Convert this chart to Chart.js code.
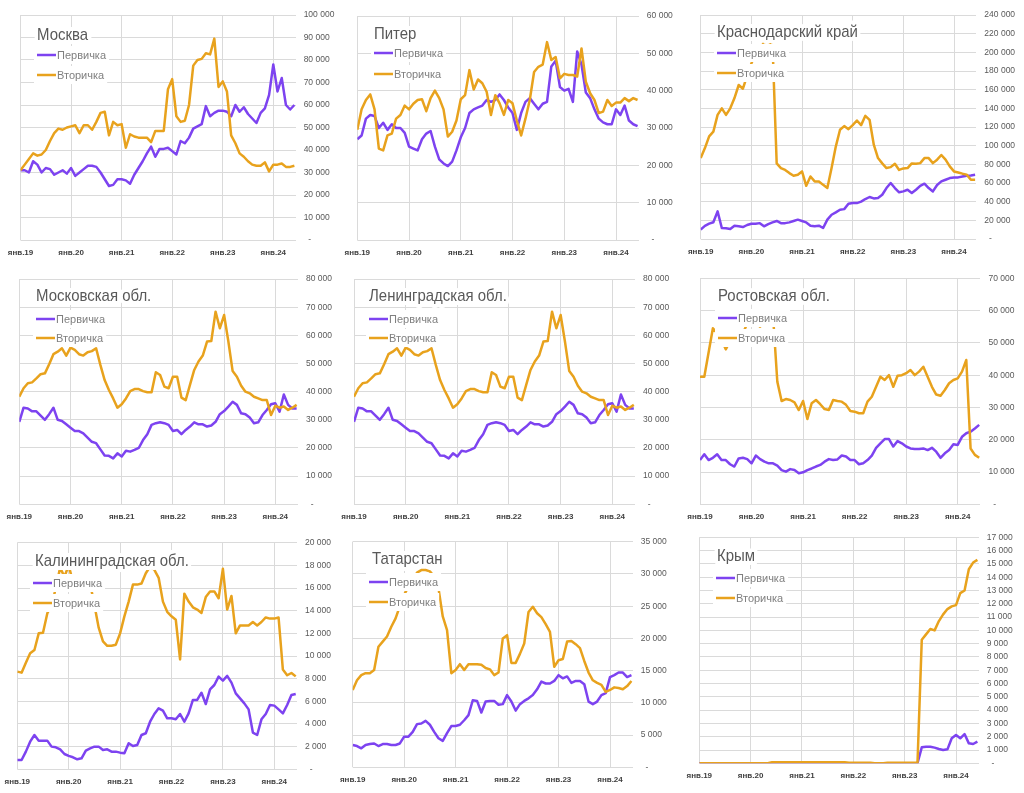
<!DOCTYPE html>
<html><head><meta charset="utf-8">
<script src="https://cdn.jsdelivr.net/npm/chart.js"></script>
<style>
html,body{margin:0;padding:0;background:#fff;width:1024px;height:793px;overflow:hidden;}
canvas{position:absolute;}
</style></head><body>
<script>
// ---------- DATA (monthly, янв.2019 – июн.2024, values in thousands) ----------
const seriesNames = ['Первичка', 'Вторичка'];
const yearLabels = ['янв.19', 'янв.20', 'янв.21', 'янв.22', 'янв.23', 'янв.24'];
const regionNames = ['Москва', 'Питер', 'Краснодарский край', 'Московская обл.', 'Ленинградская обл.',
  'Ростовская обл.', 'Калининградская обл.', 'Татарстан', 'Крым'];

const moscowPrimary = [31,31,30,35,33.5,30,32,31.5,29,30,31,29.5,32,28.5,30,31.5,33,33,32.5,30,27,24,24.5,27,27,26.5,25,29,32,35,38.5,41.5,37,40.5,40.5,41,39.5,38,44,43,45.5,49.5,50.5,51.5,59.5,55,56.5,57.5,57.5,57,55,60,57,59,56,54,52,56.5,58.5,64.5,78,66,72,60,58,60];
const moscowSecondary = [31,33.5,36,38.5,37.5,38,40,44,47.5,49.5,49,50,50.5,51,47.5,51,51,49,52.5,56.5,57,46.5,52.5,51,51.5,41,47,46,45.5,45.5,45.5,43.5,48.5,48.5,48.5,67,71.5,55,52.5,53,60,77.5,80,80.5,83,82.5,89.5,68,70.5,66,46.5,43,38.5,37,35,33.5,33,33,34.5,30.5,33.5,33.5,34,32.5,32.5,33];

const spbPrimary = [27,28,32.5,33.5,33.2,30,31.4,29.5,31,30,30,28.7,25,24.5,24,27,28.5,29.2,25,21.6,20.5,19.8,21,24,27.5,30,34,35,35.5,36,37.5,37,37.5,39,37.5,35.5,34,29.5,34,37,38,36.5,35,36.5,37,46.5,48,41,40,40.5,37,50.5,47,39.5,38,35,32.5,31.5,31,31,35,33.5,36,32,31,30.5];
const spbSecondary = [29.5,35,37.5,39,35,24.5,24,28,28.5,32.5,33.5,36,35,36.5,37.5,37.7,34.5,38,40,38,35,27.7,29,32,37.7,38.8,45.5,40.3,43,42,39.7,33.5,38.8,36.6,33.5,37.5,36.6,32,28,32.5,37.5,45,46.4,47,53,48.2,49,43.3,44.5,44.2,44.2,43.8,51.3,42.4,39.3,37.5,34,34.4,37.5,35.9,36.8,36.8,38,37.2,38,37.5];

const krasnodarPrimary = [10,14,16.4,18,29.6,11.8,11.4,10.7,14.3,13.6,12.8,15,16.4,16.4,17,13.6,16,17.8,19.3,17,17,17.8,19.3,20.7,19.3,17.8,14.3,13.6,14.3,11.8,20.7,26,28.5,31.4,32,37.8,38.5,38.5,40,42.8,45,43.5,44,47.4,54.6,60,54.6,50,51,52.8,49.2,52.8,57,59.2,54.6,51,57.8,61.7,63.5,65.3,66,66,67,67.8,68,68.8];
const krasnodarSecondary = [86.7,97.4,110,115,133,140,133,140,151,165,161,175,188,198,205,210,208,210,81,76,74,70.6,67.8,68.8,72.4,57,67,61.7,61.7,58,54.6,76,99,117,121,117.7,122,127,122,132,127.7,101,86.7,81,76,77,80.6,74,75.6,76,81,80.6,81.3,86.7,86.7,81.3,85,90,85,77.8,72.4,71.3,70,69,63.5,63.5];

const mosOblPrimary = [29.3,34.3,34,33,33,31.5,30,32,34.3,30,29.6,28.4,27.2,26,26,25.2,23.7,22.2,21.7,19.5,17.3,17.2,16.3,18.1,17,19,18.7,19.3,20,22.8,24.9,28.2,28.8,29.1,28.8,28.2,26,26.4,24.9,26.4,27.6,29.1,28.4,28.4,27.6,28,29.3,32,33.1,34.7,36.4,35.3,32.3,32,30.8,28.8,29.1,31.7,33.5,35.5,35.9,32.9,39,35.3,34,34];
const mosOblSecondary = [38.2,41.2,43,43.3,44.7,46.2,46.5,49.7,53.3,54.2,55.4,52.8,55.6,54.8,53.3,52.8,54,54.4,55.4,49.5,44.1,40.6,37.6,34.3,35.5,37.6,40.2,40.9,40.9,40.2,39.8,39.8,46.9,45.9,41.8,41.2,45.3,45.3,37.9,37,42.4,47.7,50.7,52.8,57.8,58,68.4,62.5,67.2,57.8,47.3,45.3,42.1,40,39.4,38.2,37.6,37,37,31.7,35,34.3,34.7,33.5,34.3,35.3];

const lenOblPrimary = [29.3,34.3,34,33,33,31.5,30,32,34.3,30,29.6,28.4,27.2,26,26,25.2,23.7,22.2,21.7,19.5,17.3,17.2,16.3,18.1,17,19,18.7,19.3,20,22.8,24.9,28.2,28.8,29.1,28.8,28.2,26,26.4,24.9,26.4,27.6,29.1,28.4,28.4,27.6,28,29.3,32,33.1,34.7,36.4,35.3,32.3,32,30.8,28.8,29.1,31.7,33.5,35.5,35.9,32.9,39,35.3,34,34];
const lenOblSecondary = [38.2,41.2,43,43.3,44.7,46.2,46.5,49.7,53.3,54.2,55.4,52.8,55.6,54.8,53.3,52.8,54,54.4,55.4,49.5,44.1,40.6,37.6,34.3,35.5,37.6,40.2,40.9,40.9,40.2,39.8,39.8,46.9,45.9,41.8,41.2,45.3,45.3,37.9,37,42.4,47.7,50.7,52.8,57.8,58,68.4,62.5,67.2,57.8,47.3,45.3,42.1,40,39.4,38.2,37.6,37,37,31.7,35,34.3,34.7,33.5,34.3,35.3];

const rostovPrimary = [13.7,15.5,13.7,14.4,15.5,13.7,13.7,12.4,11.7,14.2,14.4,14,12.7,15.1,14,13.2,12.7,12.7,12,10.6,10.1,10.9,10.6,9.6,9.9,10.6,11.1,11.7,12.2,13.2,14,13.7,13.9,15.1,14.8,13.7,13.7,12.4,12.7,13.7,15.1,17.5,18.9,20.2,20.2,17.9,19.6,18.9,17.9,17.3,17.1,17.1,17.3,16.8,17.5,16.3,14.4,15.8,16.8,18.6,18.4,20.9,22,22.5,23.5,24.6];
const rostovSecondary = [39.5,39.5,47,54.5,53,51,48,50.5,52,51.5,53,56,57,56,55,56.5,57.5,58.5,38,32,32.6,32.3,31.6,29.2,32,26.4,31.3,32.3,31,29.5,29.2,32.3,32,31.8,30.8,28.9,28.7,28.2,28.2,31.8,33.3,36.4,39.5,38.5,40,36.4,39.8,40,40.6,41.6,40,41.1,42.6,39.5,36.4,34,33.6,35.4,37.5,38.5,39,41.1,44.7,17.3,15.3,14.4];

const kaliningradPrimary = [0.82,0.82,1.56,2.44,3.03,2.53,2.53,2.53,2,1.94,1.76,1.35,1.18,1.06,0.88,0.97,1.65,1.85,2,2,1.7,1.76,1.56,1.56,1.47,1.41,2.3,2.06,2.15,3.03,3.18,4.2,4.88,5.38,5.18,4.5,4.5,4.41,4.88,4.2,4.94,6.12,6.12,6.76,5.76,7.06,7.44,8.18,7.82,8.24,7.65,6.7,6.26,5.82,5.29,3.24,3.03,4.41,4.88,5.68,5.62,5.29,4.94,5.68,6.56,6.65];
const kaliningradSecondary = [8.62,8.53,9.41,10.24,10.53,12,12.06,13.76,14.5,16,17.8,17,18,16.5,16.4,16.4,16.8,16.4,14.5,12.5,11.3,10.9,10.9,11,12,13.5,14.8,16.3,16.3,16.4,17.3,17.9,17.6,16.9,14.8,13.9,13.5,13.2,9.7,15.5,14.8,14.3,14.1,13.8,15.2,15.7,15.7,15.1,17.7,14.1,15.3,12,12.7,12.7,12.7,13,12.7,13,13.4,13.3,13.3,13.4,8.8,8.3,8.5,8.2];

const tatarstanPrimary = [3.46,3.3,2.95,3.46,3.6,3.7,3.3,3.6,3.6,3.46,3.46,3.7,4.75,4.75,5.5,6.7,6.8,7.2,6.6,5.5,4.5,4.1,5.3,6.4,6.4,6.6,7.3,8.1,10.4,10.3,8.5,10.2,10.3,10.3,9.7,9.8,11.2,10.2,8.8,9.8,10.3,10.7,11.2,12.1,13.3,13,13,13.4,14.3,13.8,14.1,13.1,13.4,13.4,12.9,10.2,9.8,10.2,11.2,11.5,14,14.3,14.7,14.7,14,14.3];
const tatarstanSecondary = [12,13.5,14.3,14.6,14.6,15.1,18.7,19.5,20.3,21.8,23.1,25,26.8,28,29.3,30.2,30.6,30.6,30.4,29.6,27.8,23.4,21.3,14.6,15.1,16,15.1,16,16,16,15.9,15.4,15.2,14.3,14.7,20,20.5,16.2,16.2,17.6,19.2,24.1,24.9,23.9,23.3,22.2,21,15.6,16.6,16.8,19.5,19.6,19.1,18.5,16.5,14.7,13.5,13.1,12.8,11.7,12,12.4,12.3,12.1,12.6,13.4];

const crimeaPrimary = [0,0,0,0,0,0,0,0,0,0,0,0,0,0,0,0,0,0,0,0,0,0,0,0,0,0,0,0,0,0,0,0,0,0,0,0,0,0,0,0,0,0,0,0,0,0,0,0,0,0,0,0,1.2,1.25,1.25,1.18,1.08,1.0,1.05,1.88,2.13,1.88,2.2,1.5,1.45,1.63];
const crimeaSecondary = [0,0,0,0,0,0,0,0,0,0,0,0,0,0,0,0,0,0.08,0.08,0.08,0.08,0.08,0.08,0.08,0.08,0.08,0.08,0.08,0.08,0.08,0.08,0.08,0.08,0.08,0.08,0.05,0.05,0.05,0.05,0.05,0.05,0,0,0,0.04,0.04,0.04,0.04,0.04,0.04,0.04,0.04,9.3,9.7,10.1,10.0,10.7,11.2,11.6,11.8,11.9,12.8,13.0,14.6,15.1,15.3];

const yMaxes = [100, 60, 240, 80, 80, 70, 20, 35, 17];   // thousands
const ySteps = [10, 10, 20, 10, 10, 10, 2, 5, 1];

const primarySeries = [moscowPrimary, spbPrimary, krasnodarPrimary, mosOblPrimary, lenOblPrimary, rostovPrimary, kaliningradPrimary, tatarstanPrimary, crimeaPrimary];
const secondarySeries = [moscowSecondary, spbSecondary, krasnodarSecondary, mosOblSecondary, lenOblSecondary, rostovSecondary, kaliningradSecondary, tatarstanSecondary, crimeaSecondary];

// ---------- LAYOUT (page pixels) ----------
const layouts = [
 {cx:0,   cy:0,   cw:340, ch:265, x0:20.5,  x60:273.3, yTop:15,    yBot:240,   tx:37, ty:40, lx:37, ly:55, ly2:75},
 {cx:340, cy:0,   cw:340, ch:265, x0:357.3, x60:616,   yTop:16,    yBot:240,   tx:34, ty:39, lx:34, ly:53, ly2:74},
 {cx:680, cy:0,   cw:344, ch:265, x0:700.7, x60:954,   yTop:15,    yBot:239,   tx:37, ty:37, lx:37, ly:53, ly2:73},
 {cx:0,   cy:265, cw:340, ch:265, x0:19.3,  x60:275.3, yTop:279,   yBot:504.3, tx:36, ty:36, lx:36, ly:54, ly2:73},
 {cx:340, cy:265, cw:340, ch:265, x0:354,   x60:612.3, yTop:279,   yBot:504.3, tx:29, ty:36, lx:29, ly:54, ly2:73},
 {cx:680, cy:265, cw:344, ch:265, x0:700,   x60:957.7, yTop:278.3, yBot:504.3, tx:38, ty:36, lx:38, ly:53, ly2:73},
 {cx:0,   cy:530, cw:340, ch:263, x0:17.3,  x60:274.3, yTop:542.7, yBot:769.3, tx:35, ty:36, lx:33, ly:53, ly2:73},
 {cx:340, cy:530, cw:340, ch:263, x0:352.7, x60:610,   yTop:541.7, yBot:767.3, tx:32, ty:34, lx:29, ly:52, ly2:72},
 {cx:680, cy:530, cw:344, ch:263, x0:699.3, x60:956,   yTop:537.3, yBot:763.3, tx:37, ty:31, lx:36, ly:48, ly2:68}
];
const X_MAX = 65.3;
const PURPLE = '#7D43F0';
const ORANGE = '#E8A21D';
const GRID = '#dadada';
const FONT = '"Liberation Sans", Arial, sans-serif';

function fmtThousands(v) {
  const n = Math.round(v * 1000);
  if (n === 0) return '  -';
  return String(n).replace(/\B(?=(\d{3})+(?!\d))/g, ' ');
}

const overlayText = {
  id: 'overlayText',
  afterDatasetsDraw(chart, args, o) {
    const ctx = chart.ctx;
    ctx.save();
    ctx.lineJoin = 'round';
    // title with white halo
    ctx.font = '17px ' + FONT;
    ctx.textBaseline = 'alphabetic';
    ctx.textAlign = 'left';
    ctx.save();
    ctx.translate(o.tx, o.ty);
    ctx.scale(0.88, 1);
    ctx.strokeStyle = '#fff'; ctx.lineWidth = 8; ctx.strokeText(o.title, 0, 0);
    ctx.fillStyle = '#595959'; ctx.fillText(o.title, 0, 0);
    ctx.restore();
    // legend entries on white boxes
    const rows = [o.ly, o.ly2];
    ctx.font = '11px ' + FONT;
    chart.data.datasets.forEach((ds, i) => {
      const y = rows[i];
      const tw = ctx.measureText(ds.label).width;
      ctx.fillStyle = '#fff';
      ctx.fillRect(o.lx - 3, y - 9, 20 + tw + 6, 18);
    });
    chart.data.datasets.forEach((ds, i) => {
      const y = rows[i];
      ctx.lineCap = 'butt';
      ctx.strokeStyle = ds.borderColor; ctx.lineWidth = 2.5;
      ctx.beginPath(); ctx.moveTo(o.lx, y); ctx.lineTo(o.lx + 19, y); ctx.stroke();
      ctx.textBaseline = 'middle';
      ctx.fillStyle = '#7f7f7f'; ctx.fillText(ds.label, o.lx + 20, y + 0.5);
    });
    ctx.restore();
  }
};
Chart.register(overlayText);

layouts.forEach((L, p) => {
  const cv = document.createElement('canvas');
  cv.width = L.cw; cv.height = L.ch;
  cv.style.left = L.cx + 'px'; cv.style.top = L.cy + 'px';
  cv.style.width = L.cw + 'px'; cv.style.height = L.ch + 'px';
  document.body.appendChild(cv);

  const ppm = (L.x60 - L.x0) / 60;
  const rightPx = L.x0 + X_MAX * ppm;          // page coordinate of plot right edge
  const yW = L.cx + L.cw - rightPx;
  const xH = L.cy + L.ch - L.yBot;
  const step = ySteps[p], ymax = yMaxes[p];
  const toPts = arr => arr.map((v, i) => ({x: i, y: v}));

  new Chart(cv, {
    type: 'line',
    data: {
      datasets: [
        {label: seriesNames[0], data: toPts(primarySeries[p]), borderColor: PURPLE, backgroundColor: PURPLE,
         borderWidth: 2.5, pointRadius: 0, tension: 0, borderJoinStyle: 'round', order: 2},
        {label: seriesNames[1], data: toPts(secondarySeries[p]), borderColor: ORANGE, backgroundColor: ORANGE,
         borderWidth: 2.5, pointRadius: 0, tension: 0, borderJoinStyle: 'round', order: 1}
      ]
    },
    options: {
      responsive: false, animation: false, devicePixelRatio: 1,
      layout: {padding: {left: L.x0 - L.cx, top: L.yTop - L.cy, right: 0, bottom: 0}},
      plugins: {
        legend: {display: false}, tooltip: {enabled: false}, title: {display: false},
        overlayText: {title: regionNames[p], tx: L.tx, ty: L.ty, lx: L.lx, ly: L.ly, ly2: L.ly2}
      },
      scales: {
        x: {
          type: 'linear', min: 0, max: X_MAX,
          grid: {color: GRID, lineWidth: 1, drawTicks: false},
          border: {display: false},
          afterBuildTicks: s => { s.ticks = yearLabels.map((_, k) => ({value: k * 12})); },
          afterFit: s => { s.height = xH; s.paddingLeft = 0; s.paddingRight = 0; },
          ticks: {
            autoSkip: false, maxRotation: 0, padding: 8, color: '#404040',
            font: {family: FONT, size: 8, weight: 'bold'},
            callback: v => yearLabels[Math.round(v / 12)]
          }
        },
        y: {
          type: 'linear', position: 'right', min: 0, max: ymax,
          grid: {color: GRID, lineWidth: 1, drawTicks: false},
          border: {display: false},
          afterBuildTicks: s => {
            const t = [];
            for (let v = 0; v <= ymax + 1e-9; v += step) t.push({value: v});
            s.ticks = t;
          },
          afterFit: s => { s.width = yW; s.paddingTop = 0; s.paddingBottom = 0; },
          ticks: {
            padding: 8, color: '#595959',
            font: {family: FONT, size: 8.5},
            callback: v => fmtThousands(v)
          }
        }
      }
    }
  });
});
</script>
</body></html>
